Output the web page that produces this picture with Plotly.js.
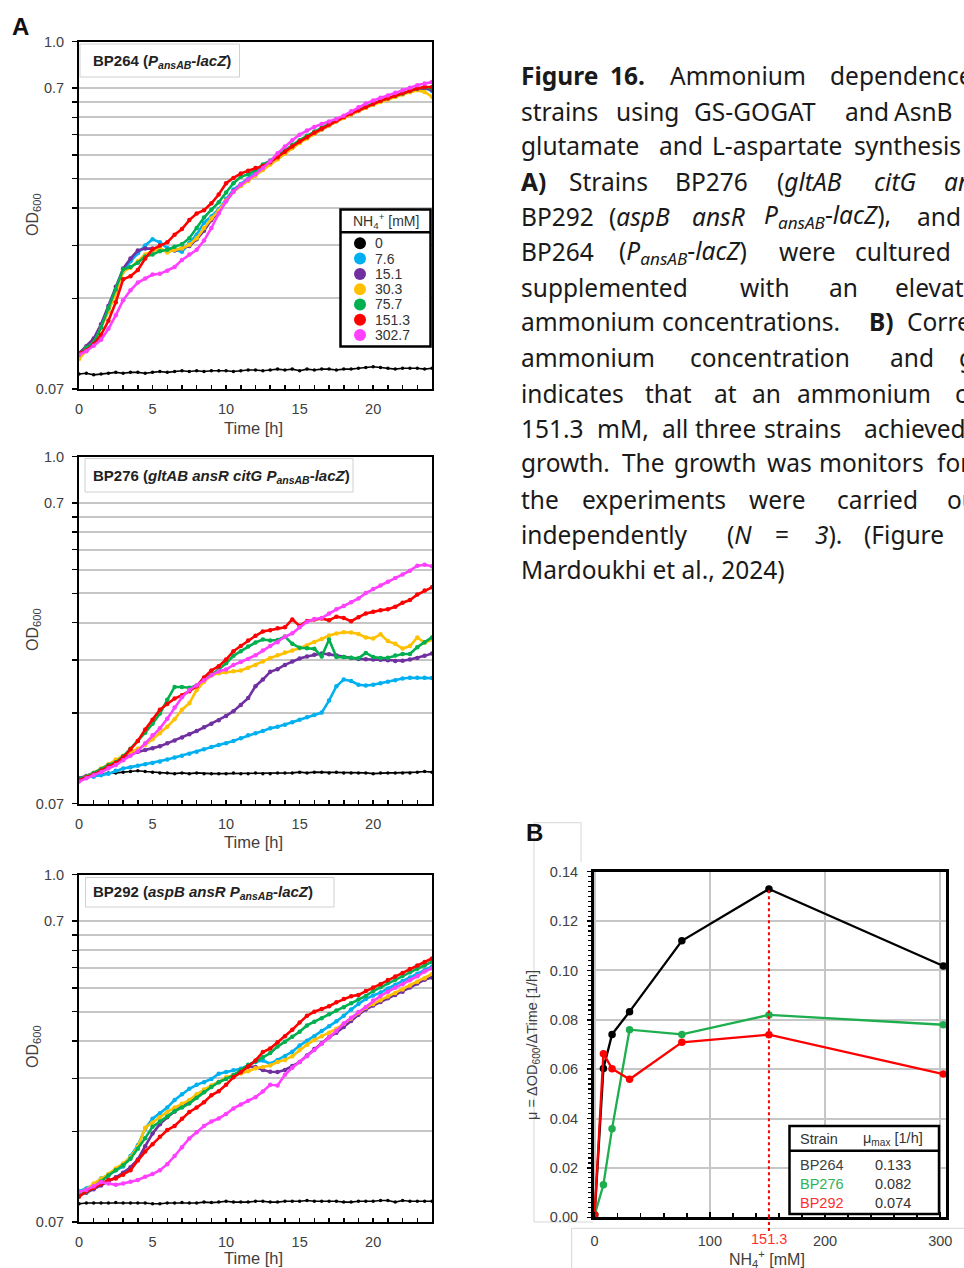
<!DOCTYPE html>
<html><head><meta charset="utf-8">
<script src="https://cdn.plot.ly/plotly-3.0.1.min.js"></script>
<style>html,body{margin:0;padding:0;background:#fff;overflow:hidden}#chart{width:964px;height:1268px}</style>
</head><body><div id="chart"></div>
<script>
// ---------------- DATA ----------------
const timeH = [0,0.5,1,1.5,2,2.5,3,3.5,4,4.5,5,5.5,6,6.5,7,7.5,8,8.5,9,9.5,10,10.5,11,11.5,12,12.5,13,13.5,14,14.5,15,15.5,16,16.5,17,17.5,18,18.5,19,19.5,20,20.5,21,21.5,22,22.5,23,23.5,24];
const nh4Levels = ["0","7.6","15.1","30.3","75.7","151.3","302.7"];
const nh4Colors = ["#000000","#00b0f0","#7030a0","#ffc000","#00b050","#ff0000","#ff40ff"];

// BP264 (PansAB-lacZ)
const bp264_0     = [0.0785,0.079,0.078,0.0785,0.079,0.0795,0.079,0.0795,0.0795,0.079,0.0795,0.08,0.0795,0.08,0.0805,0.08,0.0805,0.08,0.0805,0.0805,0.0805,0.08,0.0805,0.081,0.081,0.0805,0.081,0.0815,0.081,0.0815,0.0805,0.0815,0.081,0.0815,0.0815,0.081,0.0815,0.0815,0.082,0.0825,0.083,0.0825,0.082,0.0815,0.082,0.082,0.082,0.0815,0.082];
const bp264_7_6   = [0.091,0.096,0.101,0.113,0.127,0.148,0.172,0.186,0.198,0.21,0.22,0.215,0.206,0.203,0.2,0.214,0.228,0.25,0.262,0.277,0.3,0.322,0.336,0.35,0.367,0.384,0.398,0.414,0.432,0.45,0.466,0.482,0.497,0.513,0.53,0.545,0.56,0.575,0.59,0.605,0.62,0.633,0.645,0.658,0.67,0.684,0.697,0.702,0.685];
const bp264_15_1  = [0.092,0.097,0.103,0.115,0.132,0.153,0.176,0.19,0.202,0.205,0.205,0.203,0.201,0.202,0.205,0.209,0.22,0.235,0.255,0.272,0.296,0.318,0.333,0.346,0.362,0.378,0.392,0.408,0.426,0.444,0.462,0.478,0.494,0.51,0.527,0.543,0.558,0.573,0.588,0.603,0.618,0.632,0.645,0.657,0.669,0.681,0.693,0.7,0.69];
const bp264_30_3  = [0.088,0.094,0.099,0.112,0.127,0.146,0.172,0.177,0.186,0.196,0.201,0.206,0.199,0.203,0.205,0.211,0.222,0.24,0.258,0.274,0.296,0.316,0.331,0.344,0.358,0.374,0.39,0.406,0.424,0.442,0.46,0.476,0.493,0.51,0.526,0.542,0.557,0.572,0.587,0.602,0.616,0.629,0.642,0.654,0.666,0.678,0.688,0.68,0.655];
const bp264_75_7  = [0.091,0.096,0.1,0.112,0.13,0.15,0.175,0.178,0.184,0.193,0.196,0.201,0.203,0.208,0.212,0.222,0.24,0.26,0.276,0.292,0.315,0.338,0.355,0.362,0.374,0.39,0.402,0.418,0.436,0.454,0.47,0.486,0.502,0.518,0.534,0.55,0.563,0.578,0.593,0.608,0.622,0.635,0.648,0.66,0.672,0.685,0.697,0.705,0.7];
const bp264_151_3 = [0.092,0.094,0.0985,0.106,0.118,0.136,0.162,0.166,0.174,0.19,0.204,0.21,0.215,0.228,0.238,0.255,0.268,0.275,0.29,0.31,0.338,0.352,0.364,0.372,0.38,0.386,0.397,0.412,0.43,0.448,0.465,0.481,0.497,0.513,0.53,0.546,0.561,0.576,0.591,0.606,0.621,0.635,0.648,0.661,0.673,0.686,0.698,0.706,0.706];
const bp264_302_7 = [0.091,0.0935,0.0975,0.102,0.111,0.123,0.138,0.149,0.158,0.163,0.168,0.169,0.173,0.178,0.188,0.196,0.203,0.218,0.24,0.268,0.294,0.317,0.334,0.348,0.362,0.38,0.4,0.425,0.448,0.47,0.49,0.506,0.52,0.532,0.542,0.553,0.567,0.586,0.605,0.622,0.637,0.65,0.662,0.675,0.688,0.702,0.715,0.725,0.733];

// BP276 (gltAB ansR citG PansAB-lacZ)
const bp276_0     = [0.085,0.086,0.087,0.0875,0.0885,0.0885,0.089,0.0895,0.09,0.0895,0.089,0.0885,0.0885,0.088,0.0885,0.088,0.0885,0.088,0.088,0.088,0.088,0.0885,0.088,0.088,0.0885,0.088,0.088,0.0885,0.0885,0.0885,0.089,0.0885,0.089,0.089,0.0885,0.089,0.0885,0.0885,0.0885,0.0885,0.088,0.0885,0.0885,0.0885,0.0885,0.0885,0.089,0.0895,0.089];
const bp276_7_6   = [0.085,0.0855,0.086,0.087,0.088,0.09,0.0915,0.0925,0.0935,0.0945,0.0955,0.0965,0.098,0.0995,0.101,0.1025,0.104,0.106,0.108,0.1095,0.111,0.113,0.1155,0.118,0.12,0.122,0.1245,0.126,0.128,0.1305,0.133,0.1355,0.138,0.1405,0.154,0.172,0.181,0.179,0.174,0.173,0.174,0.176,0.178,0.18,0.1825,0.1835,0.1835,0.1835,0.183];
const bp276_15_1  = [0.0848,0.0865,0.0885,0.091,0.0935,0.097,0.1003,0.102,0.104,0.1055,0.107,0.1085,0.111,0.1135,0.116,0.119,0.122,0.1255,0.129,0.1325,0.137,0.142,0.149,0.157,0.172,0.181,0.192,0.196,0.2025,0.208,0.2125,0.216,0.219,0.221,0.2195,0.2175,0.215,0.2135,0.212,0.2115,0.211,0.2105,0.21,0.2085,0.209,0.211,0.2135,0.217,0.221];
const bp276_30_3  = [0.0838,0.086,0.0885,0.0915,0.0945,0.098,0.101,0.1035,0.1065,0.1097,0.1145,0.12,0.126,0.1335,0.1436,0.151,0.167,0.178,0.187,0.19,0.1915,0.193,0.194,0.198,0.2025,0.208,0.2135,0.218,0.2225,0.226,0.23,0.235,0.2415,0.247,0.2535,0.2575,0.26,0.2595,0.2565,0.25,0.248,0.256,0.243,0.238,0.2295,0.234,0.25,0.24,0.246];
const bp276_75_7  = [0.0848,0.086,0.0885,0.091,0.094,0.096,0.1005,0.1065,0.113,0.1205,0.129,0.1395,0.155,0.171,0.171,0.17,0.173,0.1815,0.188,0.1955,0.205,0.217,0.225,0.233,0.2405,0.246,0.244,0.245,0.2515,0.238,0.231,0.23,0.229,0.216,0.246,0.215,0.215,0.214,0.213,0.222,0.215,0.2135,0.214,0.2175,0.22,0.22,0.232,0.241,0.25];
const bp276_151_3 = [0.0838,0.0855,0.0875,0.09,0.093,0.0955,0.0995,0.106,0.113,0.1235,0.1329,0.1436,0.15,0.1565,0.1605,0.1655,0.172,0.184,0.194,0.2005,0.211,0.225,0.234,0.244,0.253,0.2615,0.264,0.268,0.27,0.287,0.273,0.2835,0.287,0.289,0.285,0.293,0.29,0.283,0.292,0.3,0.304,0.308,0.31,0.316,0.326,0.333,0.347,0.358,0.367];
const bp276_302_7 = [0.0828,0.085,0.087,0.089,0.0917,0.094,0.0975,0.101,0.1045,0.111,0.118,0.1245,0.134,0.146,0.158,0.167,0.173,0.18,0.187,0.193,0.1955,0.2025,0.207,0.212,0.218,0.226,0.234,0.241,0.251,0.258,0.27,0.282,0.288,0.29,0.3,0.31,0.318,0.327,0.337,0.351,0.362,0.372,0.383,0.394,0.405,0.417,0.433,0.436,0.431];

// BP292 (aspB ansR PansAB-lacZ)
const bp292_0     = [0.0805,0.081,0.081,0.081,0.081,0.0812,0.081,0.081,0.081,0.081,0.0805,0.0805,0.081,0.081,0.0812,0.081,0.081,0.0815,0.0812,0.0815,0.082,0.0815,0.0815,0.0815,0.082,0.082,0.0815,0.0815,0.082,0.082,0.082,0.0825,0.082,0.082,0.082,0.082,0.0815,0.0815,0.082,0.082,0.082,0.0825,0.0825,0.0815,0.0825,0.082,0.082,0.082,0.082];
const bp292_7_6   = [0.0885,0.0905,0.093,0.0977,0.1,0.104,0.107,0.116,0.126,0.143,0.1544,0.161,0.168,0.178,0.186,0.194,0.2,0.204,0.209,0.2177,0.2205,0.2234,0.2262,0.232,0.238,0.241,0.235,0.242,0.249,0.2575,0.27,0.28,0.29,0.302,0.313,0.325,0.339,0.356,0.371,0.386,0.396,0.405,0.418,0.43,0.443,0.455,0.468,0.481,0.495];
const bp292_15_1  = [0.086,0.0875,0.09,0.0925,0.0955,0.0985,0.102,0.1065,0.113,0.125,0.1377,0.148,0.156,0.163,0.17,0.177,0.184,0.192,0.198,0.2043,0.21,0.215,0.222,0.23,0.229,0.224,0.221,0.2205,0.224,0.231,0.238,0.2505,0.263,0.275,0.288,0.298,0.311,0.326,0.342,0.356,0.367,0.377,0.388,0.398,0.408,0.421,0.434,0.447,0.455];
const bp292_30_3  = [0.087,0.0895,0.094,0.0975,0.101,0.1055,0.1095,0.115,0.1245,0.144,0.15,0.156,0.1625,0.168,0.173,0.178,0.186,0.193,0.199,0.2043,0.212,0.215,0.218,0.222,0.227,0.229,0.232,0.238,0.242,0.249,0.261,0.272,0.282,0.29,0.298,0.307,0.319,0.332,0.347,0.361,0.3715,0.382,0.393,0.404,0.415,0.428,0.44,0.452,0.467];
const bp292_75_7  = [0.086,0.088,0.091,0.0955,0.1,0.104,0.108,0.1135,0.1225,0.133,0.145,0.151,0.157,0.1635,0.168,0.1735,0.181,0.189,0.1967,0.204,0.209,0.215,0.224,0.233,0.239,0.247,0.255,0.268,0.278,0.289,0.3,0.315,0.324,0.333,0.343,0.353,0.362,0.373,0.384,0.395,0.41,0.422,0.436,0.447,0.46,0.473,0.486,0.498,0.513];
const bp292_151_3 = [0.085,0.0885,0.091,0.094,0.0965,0.0977,0.1005,0.104,0.112,0.12,0.127,0.1345,0.1415,0.146,0.1544,0.1625,0.168,0.175,0.1845,0.1905,0.2,0.212,0.22,0.23,0.241,0.257,0.264,0.277,0.29,0.305,0.322,0.339,0.35,0.357,0.365,0.376,0.386,0.394,0.398,0.41,0.421,0.432,0.446,0.458,0.471,0.485,0.498,0.512,0.526];
const bp292_302_7 = [0.0882,0.0895,0.092,0.095,0.094,0.093,0.094,0.0953,0.0965,0.099,0.101,0.104,0.109,0.116,0.124,0.1326,0.139,0.146,0.151,0.1545,0.16,0.167,0.172,0.177,0.182,0.19,0.2,0.199,0.216,0.228,0.238,0.249,0.261,0.274,0.288,0.302,0.32,0.334,0.349,0.363,0.381,0.395,0.408,0.42,0.432,0.445,0.459,0.476,0.488];

const odGridVals  = [0.07,0.14,0.21,0.28,0.35,0.42,0.49,0.56,0.63,0.7,1.0];
const odLabelVals = [0.07,0.7,1.0];
const odLabelText = ["0.07","0.7","1.0"];

// Panel B
const nh4Conc = [0,7.6,15.1,30.3,75.7,151.3,302.7];
const muBP264 = [0.001,0.0603,0.0741,0.0833,0.112,0.133,0.1018];
const muBP276 = [0.001,0.0132,0.0359,0.076,0.0741,0.082,0.078];
const muBP292 = [0.001,0.0663,0.0602,0.0559,0.0709,0.074,0.058];
const strainNames = ["BP264","BP276","BP292"];
const strainColors = ["#000000","#1fae4f","#ff0000"];
const strainTextColors = ["#404040","#2fb35a","#ff3030"];

// ---------------- LAYOUT HELPERS ----------------
const W = 964, H = 1268;
const px = v => v / W;
const py = v => 1 - v / H;
const FONT = "Liberation Sans, Arial, sans-serif";
const CAPFONT = "Noto Sans, Open Sans, sans-serif";
const TXT = "#404040";

const traces = [];
const shapes = [];
const annotations = [];

const panels = [
  {xa:"x",  ya:"y",  ov:"y5", top:41.5, bottom:389,  series:[bp264_0,bp264_7_6,bp264_15_1,bp264_30_3,bp264_75_7,bp264_151_3,bp264_302_7],
   box:[80,44,239.5,77], label:"<b>BP264 (<i>P</i><sub><i>ansAB</i></sub>-<i>lacZ</i>)</b>", labelY:61, xtitleY:428, ytitleY:215},
  {xa:"x2", ya:"y2", ov:"y6", top:456.5, bottom:803.5, series:[bp276_0,bp276_7_6,bp276_15_1,bp276_30_3,bp276_75_7,bp276_151_3,bp276_302_7],
   box:[85,458.5,353,492], label:"<b>BP276 (<i>gltAB ansR citG P</i><sub><i>ansAB</i></sub>-<i>lacZ</i>)</b>", labelY:476, xtitleY:842, ytitleY:630},
  {xa:"x3", ya:"y3", ov:"y7", top:874.5, bottom:1222, series:[bp292_0,bp292_7_6,bp292_15_1,bp292_30_3,bp292_75_7,bp292_151_3,bp292_302_7],
   box:[85.5,877.5,334,907], label:"<b>BP292 (<i>aspB ansR P</i><sub><i>ansAB</i></sub>-<i>lacZ</i>)</b>", labelY:892, xtitleY:1258, ytitleY:1047}
];

const layout = {
  width: W, height: H, margin:{l:0,r:0,t:0,b:0},
  paper_bgcolor:"#ffffff", plot_bgcolor:"#ffffff",
  showlegend:false, font:{family:FONT, color:TXT}
};

const axKey = (prefix, id) => prefix + "axis" + id.slice(1);

panels.forEach((p, pi) => {
  p.series.forEach((s, i) => {
    traces.push({
      x: timeH, y: s, xaxis: p.xa, yaxis: p.ya, type:"scatter", mode:"lines+markers",
      name: nh4Levels[i],
      line:{color:nh4Colors[i], width: i === 0 ? 1.6 : 2.6},
      marker:{color:nh4Colors[i], size: i === 0 ? 3.5 : 4.5},
      hoverinfo:"skip"
    });
  });
  traces.push({x:[null], y:[null], xaxis:p.xa, yaxis:p.ov, type:"scatter", mode:"markers", hoverinfo:"skip"});

  layout[axKey("x", p.xa)] = {
    domain:[px(79), px(432)], anchor:p.ya, range:[0,24], tick0:0, dtick:5,
    ticks:"inside", ticklen:4, tickwidth:1.5, tickcolor:"#000",
    minor:{dtick:1, tick0:0, ticks:"inside", ticklen:4, tickwidth:1.5, tickcolor:"#000", showgrid:false},
    showline:true, linecolor:"#000", linewidth:2, mirror:true,
    showgrid:false, zeroline:false, tickfont:{size:14.5, color:TXT, family:FONT}, ticklabelstandoff:6
  };
  layout[axKey("y", p.ya)] = {
    domain:[py(p.bottom), py(p.top)], anchor:p.xa, type:"log", range:[Math.log10(0.07), 0],
    tickvals:odGridVals, showticklabels:false,
    ticks:"outside", ticklen:5, tickwidth:1.5, tickcolor:"#000",
    showline:true, linecolor:"#000", linewidth:2, mirror:true,
    showgrid:true, gridcolor:"#c6c6c6", gridwidth:2, zeroline:false
  };
  layout[axKey("y", p.ov)] = {
    overlaying:p.ya, anchor:p.xa, side:"left", type:"log", range:[Math.log10(0.07), 0],
    tickvals:odLabelVals, ticktext:odLabelText, ticks:"outside", ticklen:5, tickwidth:1.5, tickcolor:"#000",
    showline:false, showgrid:false, zeroline:false,
    tickfont:{size:14.5, color:TXT, family:FONT}, ticklabelstandoff:6
  };
  shapes.push({type:"rect", xref:"paper", yref:"paper", x0:px(p.box[0]), x1:px(p.box[2]), y0:py(p.box[3]), y1:py(p.box[1]),
    line:{color:"#d0d0d0", width:1}, fillcolor:"#ffffff", layer:"above"});
  annotations.push({xref:"paper", yref:"paper", x:px(91), y:py(p.labelY), xanchor:"left", yanchor:"middle",
    text:p.label, showarrow:false, font:{family:FONT, size:15, color:"#222222"}});
  annotations.push({xref:"paper", yref:"paper", x:px(253), y:py(p.xtitleY), xanchor:"center", yanchor:"middle",
    text:"Time [h]", showarrow:false, font:{family:FONT, size:16.5, color:TXT}});
  annotations.push({xref:"paper", yref:"paper", x:px(33), y:py(p.ytitleY), xanchor:"center", yanchor:"middle",
    text:"OD<sub>600</sub>", textangle:-90, showarrow:false, font:{family:FONT, size:16, color:TXT}});
});

// Legend of panel A (layout elements)
const legX0 = 340.5, legX1 = 430.5, legTop = 209.5, legSep = 232.3, legBottom = 346.5;
shapes.push({type:"rect", xref:"paper", yref:"paper", x0:px(legX0), x1:px(legX1), y0:py(legBottom), y1:py(legTop),
  line:{color:"#000", width:2.5}, fillcolor:"#ffffff", layer:"above"});
shapes.push({type:"line", xref:"paper", yref:"paper", x0:px(legX0), x1:px(legX1), y0:py(legSep), y1:py(legSep),
  line:{color:"#000", width:2.5}, layer:"above"});
annotations.push({xref:"paper", yref:"paper", x:px(385.5), y:py(221), xanchor:"center", yanchor:"middle",
  text:"NH<sub>4</sub><sup>+</sup> [mM]", showarrow:false, font:{family:FONT, size:14, color:"#333"}});
nh4Levels.forEach((lv, i) => {
  const cy = 243.3 + 15.3 * i;
  shapes.push({type:"circle", xref:"paper", yref:"paper", x0:px(354), x1:px(366), y0:py(cy + 6), y1:py(cy - 6),
    fillcolor:nh4Colors[i], line:{width:0}, layer:"above"});
  annotations.push({xref:"paper", yref:"paper", x:px(373), y:py(cy), xanchor:"left", yanchor:"middle",
    text:lv, showarrow:false, font:{family:FONT, size:14, color:"#333"}});
});

// Panel labels
annotations.push({xref:"paper", yref:"paper", x:px(20), y:py(27), xanchor:"center", yanchor:"middle",
  text:"<b>A</b>", showarrow:false, font:{family:FONT, size:24, color:"#111"}});
annotations.push({xref:"paper", yref:"paper", x:px(534), y:py(832), xanchor:"center", yanchor:"middle",
  text:"<b>B</b>", showarrow:false, font:{family:FONT, size:24, color:"#111"}});

// ---------------- PANEL B ----------------
[muBP264, muBP276, muBP292].forEach((mu, i) => {
  traces.push({x:nh4Conc, y:mu, xaxis:"x4", yaxis:"y4", type:"scatter", mode:"lines+markers",
    name:strainNames[i], line:{color:strainColors[i], width:2.3}, marker:{color:strainColors[i], size:7.5},
    cliponaxis:false, hoverinfo:"skip"});
});
layout.xaxis4 = {
  domain:[px(593.5), px(946)], anchor:"y4", range:[-1,305], tick0:0, dtick:100,
  ticks:"inside", ticklen:5, tickwidth:1.5, tickcolor:"#000",
  minor:{dtick:20, tick0:0, ticks:"inside", ticklen:4, tickwidth:1.5, tickcolor:"#000", showgrid:false},
  showline:true, linecolor:"#000", linewidth:2.5, mirror:true,
  showgrid:true, gridcolor:"#c6c6c6", gridwidth:2, zeroline:false,
  tickfont:{size:14.5, color:TXT, family:FONT}, ticklabelstandoff:9
};
layout.yaxis4 = {
  domain:[py(1217.3), py(871.7)], anchor:"x4", range:[0,0.14], tick0:0, dtick:0.02, tickformat:".2f",
  ticks:"outside", ticklen:4, tickwidth:1.5, tickcolor:"#000",
  minor:{dtick:0.002, tick0:0, ticks:"outside", ticklen:3, tickwidth:1.2, tickcolor:"#000", showgrid:false},
  showline:true, linecolor:"#000", linewidth:2.5, mirror:true,
  showgrid:true, gridcolor:"#c6c6c6", gridwidth:2, zeroline:false,
  tickfont:{size:14.5, color:TXT, family:FONT}, ticklabelstandoff:6
};
const muMaxes = [muBP264, muBP276, muBP292].map(a => Math.max(...a));
const optConc = nh4Conc[muBP264.indexOf(muMaxes[0])];
shapes.push({type:"line", xref:"x4", yref:"y4", x0:optConc, x1:optConc, y0:0, y1:muMaxes[0],
  line:{color:"#ff0000", width:2, dash:"dot"}, layer:"above"});
shapes.push({type:"line", xref:"x4", yref:"paper", x0:optConc, x1:optConc, y0:py(1231), y1:py(1217.3),
  line:{color:"#ff0000", width:2, dash:"dot"}, layer:"above"});
annotations.push({xref:"x4", yref:"paper", x:optConc, y:py(1239), xanchor:"center", yanchor:"middle",
  text:String(optConc), showarrow:false, font:{family:FONT, size:14.5, color:"#ff3030"}});
annotations.push({xref:"paper", yref:"paper", x:px(767), y:py(1259), xanchor:"center", yanchor:"middle",
  text:"NH<sub>4</sub><sup>+</sup> [mM]", showarrow:false, font:{family:FONT, size:16, color:TXT}});
annotations.push({xref:"paper", yref:"paper", x:px(533), y:py(1045), xanchor:"center", yanchor:"middle",
  text:"μ = ΔOD<sub>600</sub>/ΔTime [1/h]", textangle:-90, showarrow:false, font:{family:FONT, size:14.5, color:TXT}});

// B table legend
shapes.push({type:"rect", xref:"paper", yref:"paper", x0:px(789.5), x1:px(939), y0:py(1214), y1:py(1126),
  line:{color:"#000", width:2.5}, fillcolor:"#ffffff", layer:"above"});
shapes.push({type:"line", xref:"paper", yref:"paper", x0:px(789.5), x1:px(939), y0:py(1150.7), y1:py(1150.7),
  line:{color:"#000", width:2.5}, layer:"above"});
annotations.push({xref:"paper", yref:"paper", x:px(798), y:py(1139), xanchor:"left", yanchor:"middle",
  text:"Strain", showarrow:false, font:{family:FONT, size:14.5, color:"#333"}});
annotations.push({xref:"paper", yref:"paper", x:px(861), y:py(1139), xanchor:"left", yanchor:"middle",
  text:"μ<sub>max</sub> [1/h]", showarrow:false, font:{family:FONT, size:14.5, color:"#333"}});
strainNames.forEach((n, i) => {
  const ry = 1165 + 19.2 * i;
  annotations.push({xref:"paper", yref:"paper", x:px(798), y:py(ry), xanchor:"left", yanchor:"middle",
    text:n, showarrow:false, font:{family:FONT, size:14.5, color:strainTextColors[i]}});
  annotations.push({xref:"paper", yref:"paper", x:px(873), y:py(ry), xanchor:"left", yanchor:"middle",
    text:muMaxes[i].toFixed(3), showarrow:false, font:{family:FONT, size:14.5, color:"#333"}});
});

// faint cropping frames around panel B
const frameGray = "#d6d6d6";
[[534,822.7,581,822.7],[581,822.7,581,862],[534,822.7,534,1222],[534,1222,593,1222],
 [571.7,1228.3,964,1228.3],[571.7,1228.3,571.7,1268]].forEach(l => {
  shapes.push({type:"line", xref:"paper", yref:"paper", x0:px(l[0]), x1:px(l[2]), y0:py(l[1]), y1:py(l[3]),
    line:{color:frameGray, width:1}, layer:"below"});
});

// ---------------- CAPTION ----------------
const capLines = [
  [76,  [[519,"<b>Figure</b>"],[608,"<b>16.</b>"],[668,"Ammonium"],[828,"dependence"]]],
  [111, [[519,"strains"],[614,"using"],[692,"GS-GOGAT"],[843,"and"],[892,"AsnB"]]],
  [146, [[519,"glutamate"],[657,"and"],[710,"L-aspartate"],[852,"synthesis"]]],
  [181, [[519,"<b>A)</b>"],[567,"Strains"],[673,"BP276"],[775,"(<i>gltAB</i>"],[872,"<i>citG</i>"],[942,"<i>ansR</i>"]]],
  [216, [[519,"BP292"],[607,"(<i>aspB</i>"],[690,"<i>ansR</i>"],[762,"<i>P</i><sub><i>ansAB</i></sub>-<i>lacZ</i>),"],[915,"and"]]],
  [252, [[519,"BP264"],[617,"(<i>P</i><sub><i>ansAB</i></sub>-<i>lacZ</i>)"],[777,"were"],[853,"cultured"]]],
  [287, [[519,"supplemented"],[738,"with"],[827,"an"],[893,"elevated"]]],
  [322, [[519,"ammonium"],[660,"concentrations."],[867,"<b>B)</b>"],[905,"Correlation"]]],
  [357, [[519,"ammonium"],[688,"concentration"],[888,"and"],[957,"growth"]]],
  [393, [[519,"indicates"],[643,"that"],[712,"at"],[750,"an"],[795,"ammonium"],[953,"concentration"]]],
  [428, [[519,"151.3"],[595,"mM,"],[660,"all"],[693,"three"],[762,"strains"],[862,"achieved"]]],
  [463, [[519,"growth."],[620,"The"],[672,"growth"],[765,"was"],[817,"monitors"],[935,"for"]]],
  [499, [[519,"the"],[580,"experiments"],[747,"were"],[835,"carried"],[945,"out"]]],
  [534, [[519,"independently"],[725,"(<i>N</i>"],[773,"="],[813,"<i>3</i>)."],[862,"(Figure"]]],
  [569, [[519,"Mardoukhi et al., 2024)"]]]
];
capLines.forEach(([y, words]) => {
  words.forEach(([x, w]) => {
    annotations.push({xref:"paper", yref:"paper", x:px(x), y:py(y), xanchor:"left", yanchor:"middle",
      text:w, showarrow:false, font:{family:CAPFONT, size:24.5, color:"#1a1a1a"}});
  });
});

layout.shapes = shapes;
layout.annotations = annotations;

Plotly.newPlot("chart", traces, layout, {staticPlot:true, displayModeBar:false});
</script>
</body></html>
